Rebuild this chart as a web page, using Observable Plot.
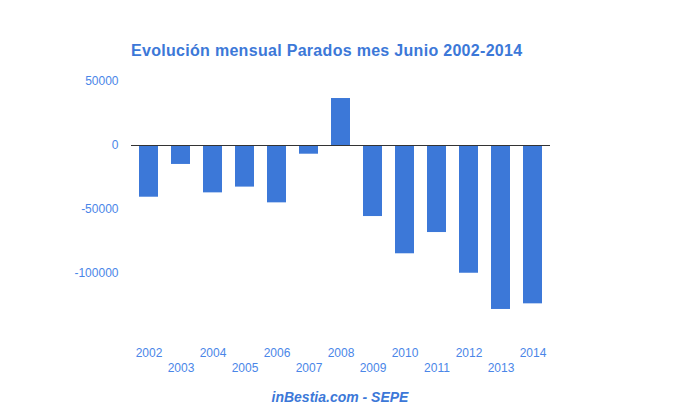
<!DOCTYPE html>
<html>
<head>
<meta charset="utf-8">
<script src="https://cdn.jsdelivr.net/npm/d3@7"></script>
<script src="https://cdn.jsdelivr.net/npm/@observablehq/plot@0.6"></script>
<style>
  html, body { margin: 0; padding: 0; background: #fff; }
  body { width: 680px; height: 420px; position: relative; font-family: Arial, "Liberation Sans", sans-serif; overflow: hidden; }
  #title { position: absolute; left: 131px; top: 42px; font-size: 16px; font-weight: bold; color: #3c78d8; letter-spacing: 0.3px; white-space: nowrap; }
  #chart { position: absolute; left: 0; top: 70px; }
  #caption { position: absolute; left: 0; width: 680px; top: 389px; text-align: center; font-size: 14px; font-weight: bold; font-style: italic; color: #3c78d8; }
</style>
</head>
<body>
<div id="title">Evolución mensual Parados mes Junio 2002-2014</div>
<div id="chart"></div>
<div id="caption">inBestia.com - SEPE</div>
<script>
const years = ["2002","2003","2004","2005","2006","2007","2008","2009","2010","2011","2012","2013","2014"];
const values = [-40400, -14800, -37000, -32500, -44800, -6800, 36700, -55500, -84600, -68000, -99800, -128100, -123700];
const yTicks = [50000, 0, -50000, -100000];

const data = years.map((y, i) => ({year: y, value: values[i]}));
const evenYears = years.filter((_, i) => i % 2 === 0);
const oddYears = years.filter((_, i) => i % 2 === 1);

const labelColor = "#4a86e8";
const chart = Plot.plot({
  width: 680,
  height: 312,
  marginTop: 11,
  marginBottom: 45,
  marginLeft: 131,
  marginRight: 130,
  style: {fontFamily: "Arial, 'Liberation Sans', sans-serif", fontSize: "12px", background: "transparent"},
  x: {domain: years, paddingInner: 0.41, paddingOuter: 0.205},
  y: {domain: [-150000, 50000]},
  marks: [
    Plot.barY(data, {x: "year", y: "value", fill: "#3c78d8"}),
    Plot.ruleY([0], {stroke: "#333", strokeWidth: 1}),
    Plot.axisY({ticks: yTicks, tickSize: 0, tickPadding: 13, tickFormat: d => String(d), label: null, color: labelColor, fill: labelColor, fontSize: 12}),
    Plot.axisX({ticks: evenYears, tickSize: 0, tickPadding: 11, label: null, fill: labelColor, fontSize: 12}),
    Plot.axisX({ticks: oddYears, tickSize: 0, tickPadding: 26, label: null, fill: labelColor, fontSize: 12})
  ]
});
document.getElementById("chart").appendChild(chart);
</script>
</body>
</html>
